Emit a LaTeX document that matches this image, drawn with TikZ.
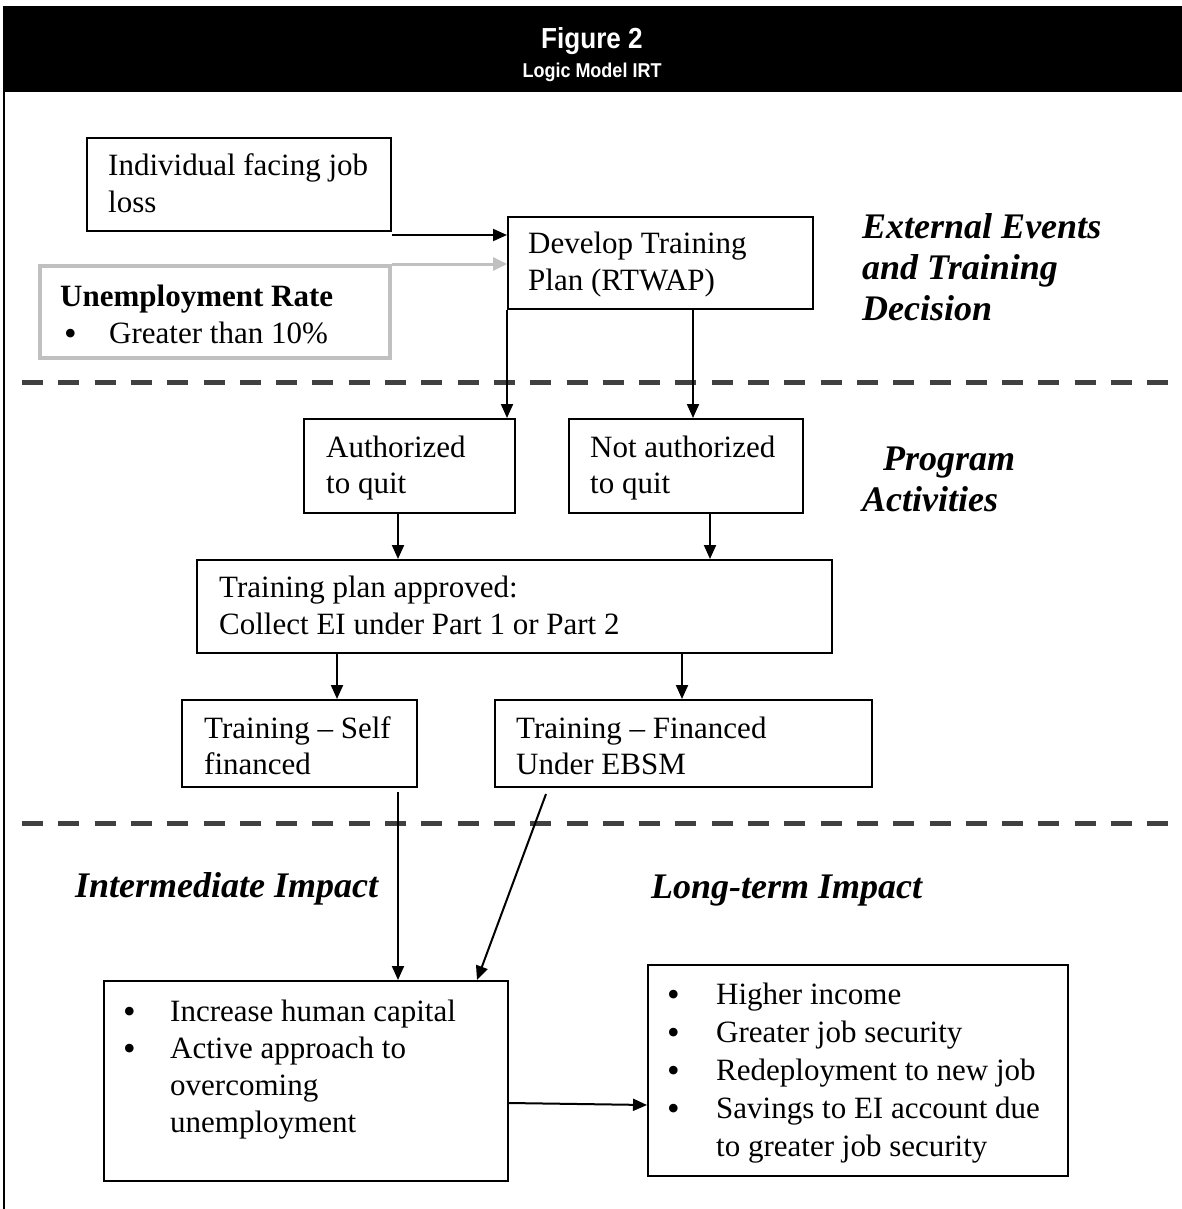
\documentclass[tikz,border=0pt]{standalone}
\usepackage{fontspec}
\usepackage{graphicx}
\setmainfont{Liberation Serif}
\newfontfamily\hdrfont{Liberation Sans}
\usetikzlibrary{arrows.meta,calc}
\definecolor{dgray}{RGB}{64,64,64}
\definecolor{lgray}{RGB}{192,192,192}
\begin{document}
\begin{tikzpicture}[x=1pt,y=-1pt,
  box/.style={draw=black, line width=2pt, inner sep=0pt, anchor=north west},
  gbox/.style={draw=lgray, line width=3.5pt, inner sep=0pt, anchor=north west},
  txt/.style={inner sep=0pt, anchor=base west, font=\fontsize{31}{37}\selectfont},
  btxt/.style={txt, font=\fontsize{31}{37}\selectfont\bfseries},
  bul/.style={inner sep=0pt, anchor=base west, font=\fontsize{36}{40}\selectfont},
  lbl/.style={inner sep=0pt, anchor=base west, font=\fontsize{36}{41}\selectfont\bfseries\itshape},
  hdr/.style={inner sep=0pt, anchor=base, text=white},
  arr/.style={line width=2pt, -{Triangle[length=14pt,width=12pt]}},
  garr/.style={line width=3pt, draw=lgray, -{Triangle[length=14pt,width=13pt]}},
  sep/.style={line width=5pt, draw=dgray, dash pattern=on 21pt off 15.3pt}]
\useasboundingbox (0,0) rectangle (1182,1209);

% header
\node[fill=black, inner sep=0pt, anchor=north west, minimum width=1179pt, minimum height=86pt] (header) at (3,6) {};
\node[hdr] (title) at (592,49) {\scalebox{0.9}[1]{\hdrfont\bfseries\fontsize{29}{33}\selectfont Figure 2}};
\node[hdr] (subtitle) at (592,78) {\scalebox{0.9}[1]{\hdrfont\bfseries\fontsize{20}{24}\selectfont Logic Model IRT}};
\draw[line width=2pt] (4,92) -- (4,1209);

% separators
\draw[sep] (22,382) -- (1172,382);
\draw[sep] (22,823) -- (1172,823);

% top section
\node[box, minimum width=304pt, minimum height=93pt] (loss) at (86,137) {};
\node[txt] (lossA) at (108,176) {Individual facing job};
\node[txt] (lossB) at (108,212) {loss};

\node[gbox, minimum width=350pt, minimum height=92pt] (unemp) at (38,264) {};
\node[btxt] (unempA) at (60,306) {Unemployment Rate};
\node[bul] (unempB) at (64,345) {\textbullet};
\node[txt] (unempC) at (109,343) {Greater than 10\%};

\node[box, minimum width=305pt, minimum height=92pt] (dev) at (507,216) {};
\node[txt] (devA) at (528,253) {Develop Training};
\node[txt] (devB) at (528,290) {Plan (RTWAP)};

\node[lbl] (extA) at (862,238) {External Events};
\node[lbl] (extB) at (862,279) {and Training};
\node[lbl] (extC) at (862,320) {Decision};

\draw[arr] ($(loss.south east)+(0,3)$) -- ($(loss.south east -| dev.west)+(0,3)$);
\draw[garr] (unemp.north east) -- (unemp.north east -| dev.west);

% program activities
\node[box, minimum width=211pt, minimum height=94pt] (auth) at (303,418) {};
\node[txt] (authA) at (326,457) {Authorized};
\node[txt] (authB) at (326,493) {to quit};

\node[box, minimum width=234pt, minimum height=94pt] (nauth) at (568,418) {};
\node[txt] (nauthA) at (590,457) {Not authorized};
\node[txt] (nauthB) at (590,493) {to quit};

\node[lbl] (progA) at (883,470) {Program};
\node[lbl] (progB) at (862,511) {Activities};

\draw[arr] (dev.south west) -- (dev.south west |- auth.north);
\draw[arr] ([xshift=186pt]dev.south west) -- ([xshift=186pt]dev.south west |- nauth.north);

\node[box, minimum width=635pt, minimum height=93pt] (tp) at (196,559) {};
\node[txt] (tpA) at (219,597) {Training plan approved:};
\node[txt] (tpB) at (219,634) {Collect EI under Part 1 or Part 2};

\draw[arr] ([xshift=95pt]auth.south west) -- ([xshift=95pt]auth.south west |- tp.north);
\draw[arr] ([xshift=142pt]nauth.south west) -- ([xshift=142pt]nauth.south west |- tp.north);

\node[box, minimum width=235pt, minimum height=87pt] (self) at (181,699) {};
\node[txt] (selfA) at (204,738) {Training -- Self};
\node[txt] (selfB) at (204,774) {financed};

\node[box, minimum width=377pt, minimum height=87pt] (ebsm) at (494,699) {};
\node[txt] (ebsmA) at (516,738) {Training -- Financed};
\node[txt] (ebsmB) at (516,774) {Under EBSM};

\draw[arr] ([xshift=141pt]tp.south west) -- ([xshift=141pt]tp.south west |- self.north);
\draw[arr] ([xshift=486pt]tp.south west) -- ([xshift=486pt]tp.south west |- ebsm.north);

% impacts
\node[lbl] (interm) at (75,897) {Intermediate Impact};
\node[lbl] (longt) at (651,898) {Long-term Impact};

\node[box, minimum width=404pt, minimum height=200pt] (inc) at (103,980) {};
\node[bul] (incA0) at (123,1023) {\textbullet};
\node[txt] (incA) at (170,1021) {Increase human capital};
\node[bul] (incB0) at (123,1060) {\textbullet};
\node[txt] (incB) at (170,1058) {Active approach to};
\node[txt] (incC) at (170,1095) {overcoming};
\node[txt] (incD) at (170,1132) {unemployment};

\node[box, minimum width=420pt, minimum height=211pt] (long) at (647,964) {};
\node[bul] (lA0) at (667,1006) {\textbullet};
\node[txt] (lA) at (716,1004) {Higher income};
\node[bul] (lB0) at (667,1044) {\textbullet};
\node[txt] (lB) at (716,1042) {Greater job security};
\node[bul] (lC0) at (667,1082) {\textbullet};
\node[txt] (lC) at (716,1080) {Redeployment to new job};
\node[bul] (lD0) at (667,1120) {\textbullet};
\node[txt] (lD) at (716,1118) {Savings to EI account due};
\node[txt] (lE) at (716,1156) {to greater job security};

\draw[arr] ([xshift=217pt,yshift=-4pt]self.south west) -- ([xshift=217pt]self.south west |- inc.north);
\draw[arr] ([xshift=52pt,yshift=-6pt]ebsm.south west) -- ([xshift=374pt]inc.north west);
\draw[arr] ([yshift=-22pt]inc.east) -- ([yshift=-34.5pt]long.west);
\end{tikzpicture}
\end{document}
